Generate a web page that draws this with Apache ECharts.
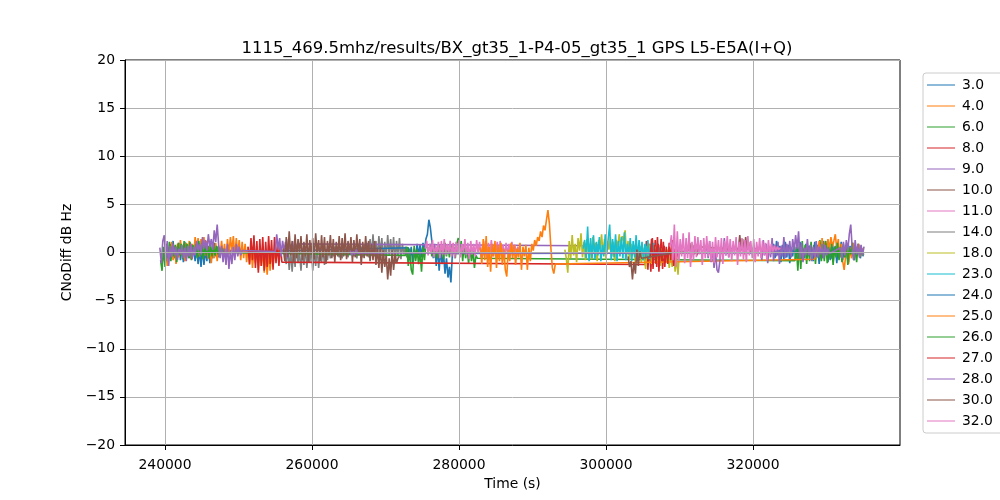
<!DOCTYPE html>
<html><head><meta charset="utf-8">
<script src="https://cdn.jsdelivr.net/npm/echarts@6/dist/echarts.min.js"></script>
<style>html,body{margin:0;padding:0;background:#fff}#c{width:1000px;height:500px}</style>
</head><body><div id="c"></div>
<script>
// ---- data ----
const STEP = 200; // seconds between samples inside a segment
const xTicks = [240000, 260000, 280000, 300000, 320000];
const names = ['3.0','4.0','6.0','8.0','9.0','10.0','11.0','14.0','18.0','23.0','24.0','25.0','26.0','27.0','28.0','30.0','32.0'];

// segment start times (s) and CNoDiff values (dB Hz) per series
const t3_0 = [240700, 273100, 322600];
const v3_0 = [
  [0.9,-0.4,1.2,-0.6,0.6,-0.2,1.0,-0.8,0.5,-1.0,1.1,-0.3,0.7,-0.6,0.9,-0.5,0.4,-0.9,0.6,-1.2,0.3,-1.5,0.5,-1.3,0.2,-0.9,0.7,-1.1,0.4,-0.6,1.0,-0.4,0.6,-0.5,0.3,0.0],
  [0.5,-0.8,0.6,-1.1,0.4,-0.6,0.9,-0.3,0.8,-0.5,1.0,0.2,1.4,1.9,3.4,2.6,1.2,-0.6,0.9,-1.4,0.5,-1.9,0.3,-1.2,-0.2,-2.2,-0.6,-2.6,-1.5,-3.1,-0.1],
  [-0.05,0.9,-0.6,1.2,-0.3,0.7,-1.0,0.8,-0.7,1.1,-0.5,0.8,-1.1,0.5,-0.4,1.0,-0.8,0.6,-0.5,1.1,-0.9,0.4,-0.6,0.9,-0.3,0.7,0.3]
];
const t4_0 = [239700];
const v4_0 = [
  [0.3,-0.9,0.8,-1.4,0.5,-0.6,1.1,-0.8,0.7,-1.2,0.9,-0.5,1.3,-0.3,0.8,-0.9,1.0,-0.4,1.2,-0.7,
   0.9,-0.2,1.6,0.1,1.5,-0.4,1.4,0.2,1.6,-0.3,1.2,-0.7,0.8,-1.1,0.6,-0.6,1.0,-0.9,0.7,-0.3,
   1.2,-0.4,0.9,-0.6,1.4,-0.2,1.6,0.1,1.7,-0.5,1.5,-0.2,1.3,-0.8,1.1,-0.6,0.9,-1.0,0.6,-1.3,
   0.8,-1.6,0.4,-1.1,0.5,-1.8,0.2,-1.4,0.3,-2.1,-0.2,-2.3,0.1,-1.9,-0.1,-1.4,0.3,-0.9,0.5,-0.6,0.5]
];
const t6_0 = [239400, 272700, 325700];
const v6_0 = [
  [-0.8,-1.9,0.6,-1.5,0.9,-0.6,1.1,-0.9,0.7,-0.4,0.8,-1.0,1.0,-0.3,0.9,-0.7,1.2,-0.5,0.9,-0.6,1.1,-0.8,0.8,-0.2,0.9,-0.6,1.2,-0.4,1.0,-0.7,0.8,-0.3,0.7,-0.6,0.9,-0.4,0.6,-0.3,0.7,-0.2,0.5,-0.1,0.4,0.0,0.1],
  [-0.3,0.6,-1.4,0.4,-1.8,-2.3,0.7,-0.9,0.3,-1.2,0.1,-2.0,0.6,-0.8,0.9,1.1,0.2,0.9,-0.4,0.6,-0.5,0.5,-0.6,0.8,-0.3,0.6,-0.7,1.0,-0.4,0.6,-0.5,0.8,-0.2,0.6,-0.6,0.9,1.5,-0.3,1.2,-0.9,0.8,-0.6,0.4,-1.1,0.3,-0.9,0.2,-1.6,-0.3,-0.6],
  [-0.85,0.6,-1.9,0.9,-1.7,1.2,-0.6,0.8,-1.2,0.6,-0.9,1.1,-0.5,0.8,-1.2,0.7,-0.6,1.3,-0.4,0.9,-0.9,0.7,-0.5,1.0,-0.8,0.6,-1.0,0.5,-0.3,0.1]
];
const t8_0 = [251300, 305300];
const v8_0 = [
  [0.6,-1.2,1.5,-0.8,1.8,-1.6,1.2,-2.1,1.4,-1.4,1.6,-1.9,1.1,-1.5,1.7,-1.2,1.3,-1.8,1.6,-1.1,0.9,-1.4,0.8,-1.0],
  [-1.25,1.2,-1.8,0.9,-2.0,1.5,-0.6,1.3,-1.5,0.9,-1.2,1.4,-1.7,0.7,-0.9,0.2]
];
const t9_0 = [239300, 255000, 296900];
const v9_0 = [
  [0.5,-1.1,1.2,1.8,-0.9,1.2,-1.4,0.7,-0.5,0.9,-0.3,0.6,-0.8,0.4,-0.2,0.8,-0.6,0.5,-0.9,0.7,
   -0.4,0.9,-0.7,0.6,-0.3,1.2,0.2,0.9,-0.2,1.6,0.4,1.3,0.2,1.9,0.6,1.4,0.3,2.3,1.1,2.9,
   0.8,-0.6,0.7,-1.0,0.4,-1.3,0.9,-1.7,0.3,-1.2,0.6,-0.8,0.9,-0.4,0.6,-0.3,0.2,0.1],
  [0.1,1.9,0.3,1.5,-0.4,1.2,0.2,1.1,-0.6,1.4,0.3,0.9,-0.2,1.2,0.4,0.9,0.7],
  [0.7,1.0,0.3,0.9,0.5,0.8,0.4,0.9,0.5,0.8,0.6,0.7]
];
const t10_0 = [256100];
const v10_0 = [
  [0.4,-0.9,1.6,-0.5,2.2,-0.3,1.2,-1.1,1.9,-0.6,1.4,-0.2,1.7,-0.8,1.1,-0.4,1.9,-1.0,1.3,-0.2,
   1.5,-0.7,2.0,-0.1,1.3,-0.9,1.8,-0.5,1.6,-1.2,1.2,-0.3,1.8,-0.6,1.4,-1.0,1.1,-0.4,1.7,-0.8,
   1.5,-0.4,2.0,-0.7,1.2,-0.2,1.6,-1.0,1.3,-0.5,1.9,-0.3,1.4,-1.3,1.1,-0.6,1.7,-0.4,1.2,-0.9,
   0.9,-0.8,1.2,-1.3,0.5,-1.6,0.6,-2.1,0.2,-1.5,-0.3,-2.8,-0.6,-2.4,0.2,-1.8,-0.1,-1.1,-0.6,-0.4]
];
const t11_0 = [275400];
const v11_0 = [
  [0.4,1.2,-0.3,0.9,-0.1,1.3,-0.5,0.8,0.0,1.1,-0.6,1.2,-0.2,1.4,-0.3,0.9,-0.1,1.2,-0.4,1.0,
   -0.6,1.1,-0.2,1.3,-0.5,0.9,0.0,1.4,-0.3,1.0,-0.7,1.2,-0.2,0.9,-0.4,1.3,-0.1,1.1,-0.5,0.8,
   -0.3,1.2,-0.6,1.0,-0.2,1.3,-0.4,0.9,-0.1,1.1,-0.5,1.2,-0.3,0.8,-0.6,1.0,-0.2,0.9,-0.4,1.1,
   -0.3,0.8,-0.2,0.6,0.1]
];
const t14_0 = [256300];
const v14_0 = [
  [-0.3,-1.2,0.5,-1.8,0.2,-2.0,0.4,-1.5,0.8,-1.1,0.1,-1.9,0.3,-1.3,0.6,-1.6,0.2,-1.0,0.5,-1.9,
   0.3,-1.4,0.6,-1.6,0.1,-1.0,0.4,-1.3,0.2,-0.8,0.5,-0.6,0.3,-0.4,0.6,-0.2,0.4,-0.5,0.3,-0.6,
   0.5,-0.3,0.4,-0.5,0.6,-0.2,0.3,-0.4,0.5,-0.6,0.4,-0.3,0.6,-0.5,0.8,-0.2,1.0,-0.5,1.4,-0.3,
   1.9,-0.4,1.2,-0.6,1.7,-0.2,1.5,-0.8,1.1,-0.5,1.8,-0.3,1.4,-0.6,1.6,-1.0,1.2,-0.4,1.5,-0.7,
   0.9,-0.2,0.6,-0.5,0.4,0.0,0.1]
];
const t18_0 = [294400];
const v18_0 = [
  [0.3,-0.6,-2.1,1.2,-0.6,1.8,-0.3,0.9,-1.0,1.5,0.2,2.0,-0.5,1.1,-0.8,1.4,-0.2,0.9,-0.7,1.6,
   0.1,1.0,-0.9,1.3,0.4,1.9,-0.2,1.4,-0.7,1.2,0.3,1.6,-0.4,1.1,-0.9,1.3,0.5,1.9,0.6,1.7,
   1.2,2.3,-0.4,1.2,-0.8,0.9,-0.3,0.8,-1.1,0.6,-0.6,0.7,-1.0,0.5,-0.5,-1.7,0.7,-0.4,0.9,-1.2,
   0.3,-0.5,0.6,-0.9,0.2,-1.4,0.4,-0.6,0.1,-1.0,0.3,-1.6,-0.2,-1.5,0.1,-2.0,-0.6,-2.3,0.4,-0.2]
];
const t23_0 = [296900];
const v23_0 = [
  [0.4,1.3,-0.6,2.7,-0.9,1.5,-0.6,1.8,-0.7,1.1,-0.3,1.6,-0.9,0.8,-0.4,1.9,-0.2,1.4,2.9,-0.8,
   1.4,-0.5,1.9,-0.9,1.2,-0.4,1.6,-0.6,2.1,-0.8,0.9,-0.2,1.5,-0.9,1.2,-0.5,1.8,-0.7,1.3,-0.4,
   1.1,-0.8,0.9,-0.5,1.3,-0.7,0.8,-0.3,1.0,-0.6,0.6,-0.4,0.5,-0.2,-0.3]
];
const t24_0 = [328000];
const v24_0 = [
  [0.3,-0.9,1.1,-0.4,0.8,-1.2,0.5,-0.6,1.2,-0.2,0.9,-1.0,0.6,-0.7,1.0,-0.3,0.7,-1.1,0.6,-0.5,1.1,-0.8,0.4,-0.6,0.9,-1.0,0.7,-0.4,1.0,-0.8,0.5,-0.3,0.8,-0.6,0.2,-0.4]
];
const t25_0 = [282900, 328400];
const v25_0 = [
  [0.5,-1.2,1.4,-0.8,1.7,-1.5,0.6,-2.0,0.9,-0.4,1.2,-1.6,0.8,-0.9,1.0,-1.3,0.4,-1.8,-2.5,0.3,
   -0.9,1.0,-0.6,0.8,-1.3,0.4,-0.5,1.0,-1.8,0.6,-0.4,0.8,-1.8,0.5,-0.9,0.9,0.2,1.3,0.7,1.6,
   1.2,2.2,1.6,2.8,2.3,3.4,4.4,3.0,0.5,-1.6,-2.2,-1.2],
  [-0.7,0.8,-0.3,1.2,-0.6,1.5,-0.2,1.1,0.4,1.4,0.3,1.6,0.6,1.2,1.9,0.3,1.4,-0.5,0.9,-0.9,-1.8,-0.4,0.9,-1.2,0.5,-0.6,1.0,-0.5,0.6,-0.3,0.9,-0.4,0.3,0.4]
];
const t26_0 = [329100];
const v26_0 = [
  [0.2,-0.9,0.8,-0.4,1.2,-1.1,0.5,-0.6,0.9,-1.3,0.6,-0.5,1.0,-0.8,0.6,-1.0,0.9,-0.5,0.7,-1.3,0.5,-0.2,1.0,-0.8,0.6,-1.0,0.9,-0.5,0.7,-0.3,-0.1]
];
const t27_0 = [306000];
const v27_0 = [
  [-0.5,1.4,-1.7,0.8,-1.2,1.6,-2.0,0.8,-0.9,1.1,-1.5,0.6,-1.2,1.0,-0.8,1.3,-1.4,0.4,-0.7,0.5,0.1]
];
const t28_0 = [265200, 313500, 321000, 331900];
const v28_0 = [
  [0.2,-0.3,0.1,-0.2,0.3,-0.1,0.1,-0.05],
  [-0.05,0.9,-0.6,1.2,-1.0,0.5,-1.6,0.1,-1.8,-2.1,-0.8,0.6,-0.3,1.5,-0.3,1.1,-0.5,0.8,-0.2,0.4,0.3],
  [0.4,-0.8,1.3,-0.3,0.9,-1.1,0.6,-0.5,1.5,-0.9,0.8,-0.4,1.1,-1.2,0.7,-0.4,1.6,-0.6,0.9,-0.3,
   1.2,-0.5,1.4,0.2,1.8,0.4,2.2,-0.6,1.0,-1.0,0.5,-0.3,1.4,-0.3,0.8,-0.9,0.6,-0.5,1.2,-0.5,
   0.6,-0.2,0.9,-0.6,0.8,-0.3,0.5,-0.1,0.1],
  [0.5,-0.6,1.1,-0.3,1.3,0.2,1.9,2.9,0.4,-0.8,1.3,-0.2,0.9,-0.5,0.8,-0.3,0.6]
];
const t30_0 = [303000, 311200, 318000];
const v30_0 = [
  [-0.4,-1.5,-0.9,-2.8,-1.0,-2.2,0.3,-1.4,0.1,-0.6],
  [0.2,1.0,-0.5,0.8,-0.2,0.9,-0.3,0.6,0.4],
  [0.3,1.8,0.2,1.4,-0.2,1.6,0.3,1.1,0.0,0.2]
];
const t32_0 = [308700];
const v32_0 = [
  [0.6,1.8,-0.8,2.9,-1.5,2.2,-0.9,1.4,-0.4,2.0,-1.1,1.5,-0.6,2.1,-1.5,1.1,-0.8,1.7,-0.5,1.6,
   -0.2,1.3,-1.3,1.5,-0.6,1.7,-0.4,1.2,-0.9,1.1,-1.1,1.6,-0.5,1.3,-0.7,1.5,-1.2,1.2,-0.3,1.7,
   -0.5,1.4,-0.9,1.2,-0.3,1.6,-1.3,1.1,-0.4,1.5,-0.7,1.3,-1.0,1.7,-0.3,1.2,-0.6,1.4,-1.0,1.1,
   -0.4,1.5,-0.6,1.2,-0.3,1.0,-0.8,1.3,-0.2,0.9,0.1,0.7,0.2,0.6,0.3,0.5]
];

const starts = [t3_0,t4_0,t6_0,t8_0,t9_0,t10_0,t11_0,t14_0,t18_0,t23_0,t24_0,t25_0,t26_0,t27_0,t28_0,t30_0,t32_0];
const values = [v3_0,v4_0,v6_0,v8_0,v9_0,v10_0,v11_0,v14_0,v18_0,v23_0,v24_0,v25_0,v26_0,v27_0,v28_0,v30_0,v32_0];

// ---- styling ----
const palette = ['#1f77b4','#ff7f0e','#2ca02c','#d62728','#9467bd','#8c564b','#e377c2','#7f7f7f','#bcbd22','#17becf'];
const FONT = 'DejaVu Sans';
// thin horizontal line icon; tiny corner dots keep the 28x14 box so the line is not stretched
const LINE_ICON = 'path://M0,0L0.01,0L0.01,0.01Z M0,6.4L28,6.4L28,7.6L0,7.6Z M27.99,14L28,14L28,13.99Z';

const series = names.map((n, k) => {
  const pts = [];
  starts[k].forEach((t0, s) => {
    values[k][s].forEach((v, i) => pts.push([t0 + i * STEP, v]));
  });
  const c = palette[k % 10];
  return {
    name: n, type: 'line', data: pts, symbol: 'none', showSymbol: false,
    lineStyle: { width: 1.6, color: c }, itemStyle: { color: c },
    emphasis: { disabled: true }, animation: false,
    z: n === '14.0' ? 1 : 2   // grey trace sits beneath the brown one, as in the reference
  };
});

const chart = echarts.init(document.getElementById('c'), null, { renderer: 'canvas' });
chart.setOption({
  backgroundColor: '#fff',
  animation: false,
  title: {
    text: '1115_469.5mhz/results/BX_gt35_1-P4-05_gt35_1 GPS L5-E5A(I+Q)',
    left: 512, top: 35, textAlign: 'center',
    textStyle: { fontFamily: FONT, fontSize: 16.5, fontWeight: 'normal', color: '#000' }
  },
  grid: { left: 125, right: 100, top: 60, bottom: 55, show: true, borderColor: '#000', borderWidth: 1, backgroundColor: 'transparent' },
  legend: {
    orient: 'vertical', left: 923, top: 73,
    data: names.map(n => ({ name: n, icon: LINE_ICON })),
    itemWidth: 28, itemHeight: 14, itemGap: 7,
    padding: [5, 12, 5, 4],
    backgroundColor: '#fff', borderColor: '#cccccc', borderWidth: 1, borderRadius: 3,
    textStyle: { fontFamily: FONT, fontSize: 13.9, color: '#000', lineHeight: 14, padding: [0, 0, 0, 2] },
    selectedMode: false
  },
  xAxis: {
    type: 'value', min: 234558, max: 340000, z: 3,
    name: 'Time (s)', nameLocation: 'middle', nameGap: 30,
    nameTextStyle: { fontFamily: FONT, fontSize: 13.9, color: '#000' },
    axisLine: { show: true, onZero: false, lineStyle: { color: '#000', width: 1 } },
    axisTick: { show: true, length: 5, lineStyle: { color: '#000' }, customValues: xTicks },
    axisLabel: { customValues: xTicks, margin: 13, fontFamily: FONT, fontSize: 13.9, color: '#000', formatter: v => String(v) },
    splitLine: { show: true, lineStyle: { color: '#b0b0b0', width: 1 } }
  },
  yAxis: {
    type: 'value', min: -20, max: 20, interval: 5, z: 3,
    name: 'CNoDiff dB Hz', nameLocation: 'middle', nameGap: 41,
    nameTextStyle: { fontFamily: FONT, fontSize: 13.9, color: '#000' },
    axisLine: { show: true, onZero: false, lineStyle: { color: '#000', width: 1 } },
    axisTick: { show: true, length: 5, lineStyle: { color: '#000' } },
    axisLabel: { margin: 10, fontFamily: FONT, fontSize: 13.9, color: '#000', formatter: v => (v < 0 ? '\u2212' + Math.abs(v) : String(v)) },
    splitLine: { show: true, lineStyle: { color: '#b0b0b0', width: 1 } }
  },
  series: series
});
</script>
</body></html>
